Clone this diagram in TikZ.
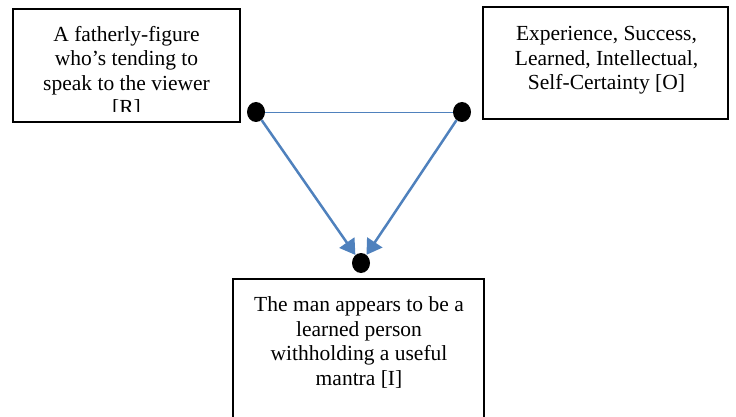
\documentclass[tikz,border=0pt]{standalone}
\usepackage{fontspec}
\setmainfont{Liberation Serif}
\usetikzlibrary{positioning,arrows.meta,shapes.geometric}
\definecolor{linkblue}{RGB}{79,129,189}

\begin{document}
\begin{tikzpicture}[
    x=1pt, y=-1pt,
    box/.style={draw, line width=1.4pt, rectangle, inner sep=0pt},
    txt/.style={align=center, inner sep=0pt, anchor=north,
        font=\fontsize{21.5}{24.5}\selectfont},
    dot/.style={ellipse, fill=black, inner sep=0pt,
        minimum width=18pt, minimum height=20pt},
    link/.style={draw=linkblue, line width=0.9pt},
    flow/.style={draw=linkblue, line width=2.5pt,
        -{Triangle[length=15pt,width=18pt]}}
]
    \useasboundingbox (0,0) rectangle (736,417);
    \clip (0,0) rectangle (736,417);

    % Boxes: representamen left, object right, interpretant below.
    \node[box, minimum width=227pt, minimum height=113pt] (rbox) at (126.5,65.5) {};
    \node[box, minimum width=245pt, minimum height=112pt] (obox) at (605.5,63) {};
    \node[box, minimum width=251pt, minimum height=180pt] (ibox) at (358.5,369) {};

    % the left text runs past the box margin and is cut off there
    \begin{scope}
        \clip (13,9) rectangle (240,112);
        \node[txt] (rtext) at (126.5,26) {A fatherly-figure\\who’s tending to\\speak to the viewer\\{[R]}};
    \end{scope}
    \node[txt] (otext) at (606.5,26.5) {Experience, Success,\\Learned, Intellectual,\\Self-Certainty [O]};
    \node[txt] (itext) at (359,296.5) {The man appears to be a\\learned person\\withholding a useful\\mantra [I]};

    % Corners of the triangle:
    \node[dot] (rdot) at (256,112) {};
    \node[dot] (odot) at (462,112) {};
    \node[dot] (idot) at (361,263) {};

    \path[link] (rdot) -- (odot);
    \path[flow] (rdot) -- (idot);
    \path[flow] (odot) -- (idot);
\end{tikzpicture}
\end{document}
